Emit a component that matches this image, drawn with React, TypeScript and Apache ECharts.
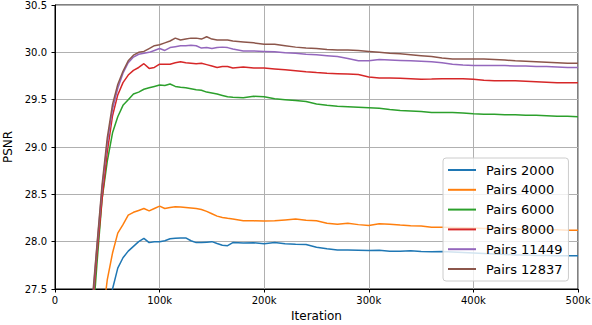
import React, { useEffect, useRef } from "react";
import * as echarts from "echarts";

const iterations = [
  30000, 35000, 40000, 45000, 50000, 55000, 60000, 65000, 70000, 75000, 80000, 85000, 90000, 95000,
  100000, 105000, 110000, 115000, 120000, 125000, 130000, 135000, 140000, 145000, 150000, 155000,
  160000, 165000, 170000, 180000, 190000, 200000, 210000, 220000, 230000, 240000, 250000, 260000,
  270000, 280000, 290000, 300000, 310000, 320000, 330000, 340000, 350000, 360000, 370000, 380000,
  390000, 400000, 410000, 420000, 430000, 440000, 450000, 460000, 470000, 480000, 490000, 500000,
];

const pairs2000 = [
  25.8, 26.1, 26.4, 26.7, 27.15, 27.5, 27.72, 27.83, 27.9, 27.95, 28.0, 28.035, 27.99, 28.0,
  28.0, 28.01, 28.03, 28.035, 28.04, 28.04, 28.01, 27.99, 27.99, 27.995, 28.0, 27.98,
  27.962, 27.958, 27.99, 27.985, 27.988, 27.978, 27.99, 27.978, 27.972, 27.97, 27.94, 27.925,
  27.912, 27.912, 27.91, 27.907, 27.91, 27.9, 27.9, 27.905, 27.895, 27.893, 27.895, 27.89,
  27.885, 27.88, 27.875, 27.87, 27.865, 27.86, 27.86, 27.855, 27.855, 27.85, 27.85, 27.85,
];

const pairs4000 = [
  25.8, 26.2, 26.6, 27.15, 27.6, 27.88, 28.09, 28.18, 28.28, 28.31, 28.33, 28.35, 28.325, 28.35,
  28.375, 28.35, 28.36, 28.37, 28.365, 28.36, 28.355, 28.35, 28.34, 28.32, 28.295, 28.27,
  28.255, 28.247, 28.24, 28.22, 28.22, 28.218, 28.22, 28.23, 28.24, 28.225, 28.22, 28.195,
  28.183, 28.194, 28.18, 28.17, 28.19, 28.185, 28.175, 28.168, 28.165, 28.152, 28.152, 28.15,
  28.148, 28.145, 28.14, 28.14, 28.138, 28.135, 28.13, 28.13, 28.128, 28.125, 28.12, 28.12,
];

const pairs6000 = [
  26.3, 27.0, 27.75, 28.45, 28.85, 29.15, 29.32, 29.44, 29.5, 29.56, 29.58, 29.61, 29.625, 29.64,
  29.655, 29.65, 29.665, 29.64, 29.63, 29.625, 29.615, 29.605, 29.6, 29.58, 29.57, 29.56,
  29.545, 29.53, 29.525, 29.52, 29.535, 29.53, 29.51, 29.5, 29.49, 29.48, 29.455, 29.44,
  29.43, 29.425, 29.42, 29.415, 29.41, 29.395, 29.385, 29.38, 29.375, 29.365, 29.365, 29.365,
  29.36, 29.35, 29.345, 29.345, 29.34, 29.34, 29.335, 29.335, 29.33, 29.325, 29.325, 29.32,
];

const pairs8000 = [
  26.4, 27.15, 27.85, 28.45, 28.95, 29.33, 29.55, 29.68, 29.76, 29.81, 29.84, 29.88, 29.83, 29.84,
  29.875, 29.875, 29.875, 29.89, 29.9, 29.89, 29.885, 29.88, 29.885, 29.87, 29.855, 29.84,
  29.85, 29.85, 29.835, 29.845, 29.835, 29.835, 29.825, 29.815, 29.805, 29.795, 29.787, 29.78,
  29.775, 29.77, 29.765, 29.74, 29.73, 29.728, 29.725, 29.72, 29.715, 29.718, 29.722, 29.72,
  29.72, 29.715, 29.705, 29.7, 29.7, 29.7, 29.695, 29.69, 29.685, 29.68, 29.68, 29.68,
];

const pairs11449 = [
  26.45, 27.25, 27.93, 28.56, 29.05, 29.4, 29.62, 29.78, 29.89, 29.95, 29.98, 29.99, 30.0, 30.02,
  30.04, 30.02, 30.05, 30.06, 30.07, 30.07, 30.075, 30.07, 30.045, 30.05, 30.04, 30.05,
  30.055, 30.05, 30.035, 30.015, 30.015, 30.01, 30.005, 29.995, 29.99, 29.98, 29.975, 29.965,
  29.955, 29.935, 29.91, 29.91, 29.925, 29.92, 29.915, 29.91, 29.905, 29.9, 29.89, 29.875,
  29.865, 29.86, 29.86, 29.86, 29.86, 29.855, 29.855, 29.85, 29.85, 29.845, 29.84, 29.84,
];

const pairs12837 = [
  26.5, 27.3, 27.95, 28.6, 29.1, 29.45, 29.66, 29.8, 29.91, 29.97, 30.0, 30.01, 30.04, 30.07,
  30.08, 30.1, 30.12, 30.15, 30.13, 30.14, 30.15, 30.15, 30.14, 30.165, 30.14, 30.13,
  30.13, 30.13, 30.12, 30.11, 30.1, 30.085, 30.085, 30.07, 30.055, 30.045, 30.04, 30.03,
  30.025, 30.025, 30.02, 30.01, 30.0, 29.99, 29.985, 29.975, 29.965, 29.955, 29.94, 29.93,
  29.93, 29.93, 29.93, 29.925, 29.92, 29.91, 29.905, 29.9, 29.895, 29.89, 29.885, 29.885,
];

const seriesNames = ["Pairs 2000", "Pairs 4000", "Pairs 6000", "Pairs 8000", "Pairs 11449", "Pairs 12837"];
const seriesValues = [pairs2000, pairs4000, pairs6000, pairs8000, pairs11449, pairs12837];
const colors = ["#1f77b4", "#ff7f0e", "#2ca02c", "#d62728", "#9467bd", "#8c564b"];

const FONT = "DejaVu Sans";

export default function App() {
  const ref = useRef<HTMLDivElement>(null);
  useEffect(() => {
    if (!ref.current) return;
    const chart = echarts.init(ref.current, null, { renderer: "svg" });
    chart.setOption({
      animation: false,
      backgroundColor: "#fff",
      color: colors,
      grid: {
        left: 55,
        right: 14,
        top: 5,
        bottom: 36,
        containLabel: false,
        outerBoundsMode: "none",
        show: true,
        borderColor: "#000",
        borderWidth: 1,
        backgroundColor: "transparent",
      },
      xAxis: {
        type: "value",
        min: 0,
        max: 500000,
        interval: 100000,
        name: "Iteration",
        nameLocation: "middle",
        nameGap: 20,
        nameTextStyle: { fontFamily: FONT, fontSize: 12, color: "#000" },
        axisLine: { show: true, onZero: false, lineStyle: { color: "#000", width: 1 } },
        axisTick: { show: true, length: 3.5, lineStyle: { color: "#000" } },
        axisLabel: {
          fontFamily: FONT,
          fontSize: 10,
          color: "#000",
          margin: 6,
          formatter: (v: number) => (v === 0 ? "0" : `${v / 1000}k`),
        },
        splitLine: { show: true, lineStyle: { color: "#b0b0b0", width: 1 } },
      },
      yAxis: {
        type: "value",
        min: 27.5,
        max: 30.5,
        interval: 0.5,
        name: "PSNR",
        nameLocation: "middle",
        nameGap: 33,
        nameTextStyle: { fontFamily: FONT, fontSize: 12, color: "#000" },
        axisLine: { show: true, lineStyle: { color: "#000", width: 1 } },
        axisTick: { show: true, length: 3.5, lineStyle: { color: "#000" } },
        axisLabel: {
          fontFamily: FONT,
          fontSize: 10,
          color: "#000",
          margin: 8,
          formatter: (v: number) => v.toFixed(1),
        },
        splitLine: { show: true, lineStyle: { color: "#b0b0b0", width: 1 } },
      },
      legend: {
        orient: "vertical",
        left: 443,
        top: 158,
        padding: [5, 6, 5, 5],
        itemGap: 5.8,
        itemWidth: 28,
        itemHeight: 2,
        icon: "rect",
        backgroundColor: "rgba(255,255,255,0.8)",
        borderColor: "#cccccc",
        borderWidth: 1,
        borderRadius: 3,
        textStyle: {
          fontFamily: FONT,
          fontSize: 13,
          lineHeight: 14,
          color: "#000",
          padding: [0, 0, 0, 5],
        },
        data: seriesNames,
      },
      series: seriesNames.map((name, i) => ({
        name,
        type: "line",
        showSymbol: false,
        symbol: "none",
        clip: true,
        lineStyle: { width: 1.5, color: colors[i] },
        itemStyle: { color: colors[i] },
        data: iterations.map((x, j) => [x, seriesValues[i][j]]),
      })),
    });
    return () => chart.dispose();
  }, []);
  return (
    <div
      ref={ref}
      style={{ position: "fixed", left: 0, top: 0, width: 592, height: 325, background: "#fff" }}
    />
  );
}
